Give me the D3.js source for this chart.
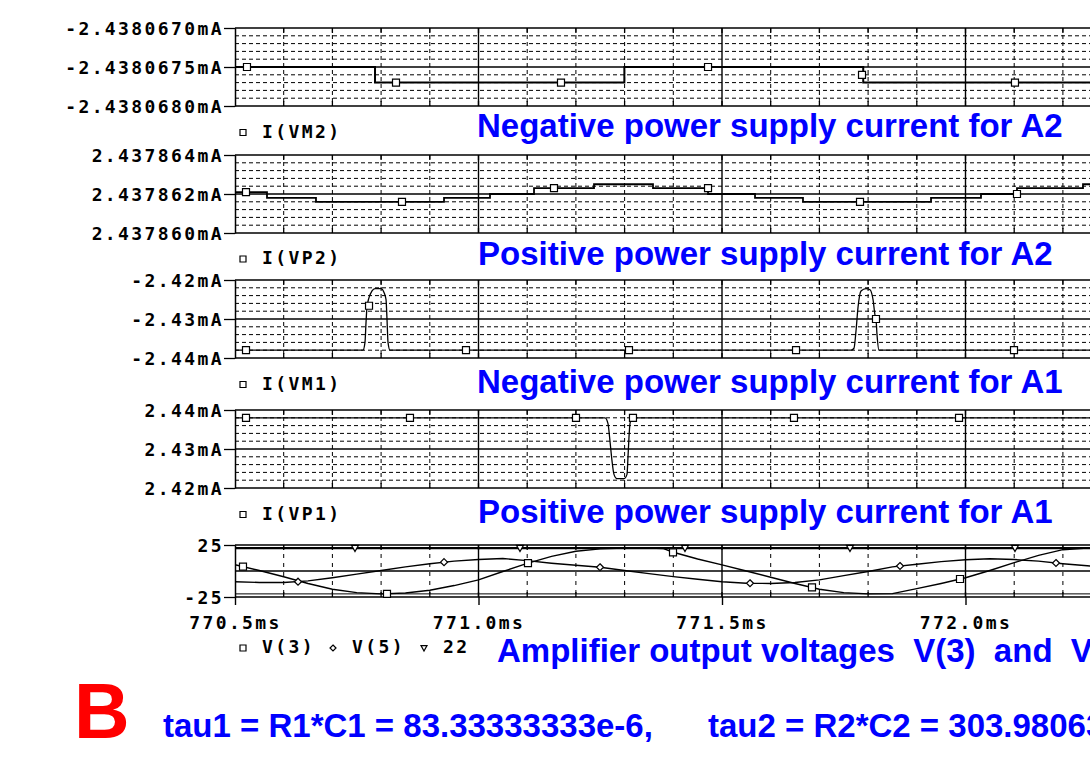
<!DOCTYPE html>
<html>
<head>
<meta charset="utf-8">
<script src="https://cdn.jsdelivr.net/npm/d3@7"></script>
<style>
body { margin: 0; background: #fff; }
svg text { white-space: pre; }
.mono { font-family: "DejaVu Sans Mono", "Liberation Mono", monospace; font-weight: bold; font-size: 18px; letter-spacing: 2.4px; fill: #000; }
.title { font-family: "Liberation Sans", Arial, sans-serif; font-weight: bold; font-size: 33px; fill: #0000ff; }
</style>
</head>
<body>
<div id="chart"></div>
<script>
/* global d3 */

let WIDTH = 1090;
let HEIGHT = 765;
let X0 = 235;      // left edge of every plot
let X_END = 1100;  // plots run off the right side of the picture

// time axis (ms)
let xMajor = [770.5, 771.0, 771.5, 772.0];
let xLabels = ["770.5ms", "771.0ms", "771.5ms", "772.0ms"];

// I(VM2): negative supply current of A2 (mA)
let iVM2 = [[770.5, -2.4380675], [770.7875, -2.4380677], [771.2995, -2.4380675], [771.79, -2.4380677], [772.3, -2.4380677]];
let iVM2Marks = [[770.5246, -2.4380675], [770.8306, -2.4380677], [771.1694, -2.4380677], [771.4713, -2.4380675], [771.7875, -2.4380676], [772.1016, -2.4380677]];
let iVM2Ticks = [-2.4380670, -2.4380675, -2.4380680];
let iVM2Labels = ["-2.4380670mA", "-2.4380675mA", "-2.4380680mA"];

// I(VP2): positive supply current of A2 (mA)
let iVP2 = [
	[770.5, 2.4378621], [770.5657, 2.4378618], [770.6663, 2.4378616], [770.9292, 2.4378618],
	[771.0236, 2.4378620], [771.1140, 2.4378623], [771.2372, 2.4378625], [771.3583, 2.4378623],
	[771.4713, 2.4378620], [771.5678, 2.4378618], [771.6663, 2.4378616], [771.9292, 2.4378618],
	[772.0318, 2.4378620], [772.1057, 2.4378623], [772.2413, 2.4378625], [772.3, 2.4378625]
];
let iVP2Marks = [[770.5226, 2.4378621], [770.8429, 2.4378616], [771.155, 2.4378623], [771.4713, 2.4378623], [771.7834, 2.4378616], [772.1057, 2.4378620]];
let iVP2Ticks = [2.437864, 2.437862, 2.437860];
let iVP2Labels = ["2.437864mA", "2.437862mA", "2.437860mA"];

// I(VM1): negative supply current of A1 (mA)
let iVM1 = [
	[770.5, -2.438], [770.7628, -2.438], [770.7669, -2.436], [770.7690, -2.431], [770.7710, -2.427],
	[770.7752, -2.4245], [770.7813, -2.4228], [770.7875, -2.4222], [770.7998, -2.4222], [770.8060, -2.4232],
	[770.8101, -2.425], [770.8121, -2.43], [770.8142, -2.436], [770.8183, -2.438],
	[771.7649, -2.438], [771.7710, -2.4375], [771.7752, -2.433], [771.7793, -2.427], [771.7854, -2.4228],
	[771.7957, -2.4222], [771.8039, -2.4225], [771.8101, -2.425], [771.8142, -2.429], [771.8162, -2.43],
	[771.8183, -2.434], [771.8224, -2.438], [772.3, -2.438]
];
let iVM1Marks = [[770.5226, -2.438], [770.7752, -2.4266], [770.9743, -2.438], [771.309, -2.438], [771.652, -2.438], [771.8162, -2.43], [772.0996, -2.438]];
let iVM1Ticks = [-2.42, -2.43, -2.44];
let iVM1Labels = ["-2.42mA", "-2.43mA", "-2.44mA"];

// I(VP1): positive supply current of A1 (mA)
let iVP1 = [
	[770.5, 2.438], [771.2598, 2.438], [771.2659, 2.4365], [771.2700, 2.432], [771.2741, 2.427],
	[771.2782, 2.4235], [771.2844, 2.4224], [771.2988, 2.4224], [771.3049, 2.4235], [771.3070, 2.428],
	[771.3090, 2.433], [771.3111, 2.4365], [771.3152, 2.438], [772.3, 2.438]
];
let iVP1Marks = [[770.5226, 2.438], [770.8593, 2.438], [771.2002, 2.438], [771.3172, 2.438], [771.6478, 2.438], [771.9867, 2.438]];
let iVP1Ticks = [2.44, 2.43, 2.42];
let iVP1Labels = ["2.44mA", "2.43mA", "2.42mA"];

// amplifier output voltages (V)
let v3 = [
	[770.50, 6.0], [770.55, 0.5], [770.60, -5.5], [770.65, -12], [770.70, -17.5], [770.75, -20.8],
	[770.80, -22], [770.85, -21.2], [770.90, -18.5], [770.95, -14], [771.00, -8.5], [771.05, -0.5],
	[771.10, 7.3], [771.15, 14], [771.20, 19], [771.25, 21.3], [771.30, 22], [771.35, 22],
	[771.38, 21.5], [771.40, 18], [771.45, 11.5], [771.50, 5.9], [771.55, 0], [771.60, -6],
	[771.65, -12], [771.70, -17.5], [771.75, -20.8], [771.80, -22], [771.85, -21.8], [771.90, -17],
	[771.95, -12], [772.00, -6.5], [772.05, 0.5], [772.10, 8], [772.15, 15], [772.20, 20.5],
	[772.25, 22], [772.30, 22]
];
let v3Marks = [[770.5164, 4.2], [770.8121, -22], [771.1016, 7.5], [771.3994, 18], [771.6848, -15.8], [771.9887, -7.7]];
let v5 = [
	[770.50, -10.3], [770.55, -11], [770.60, -11], [770.65, -9.5], [770.70, -6.5], [770.75, -3],
	[770.80, 0.5], [770.85, 4], [770.90, 7], [770.95, 9.5], [771.00, 11], [771.05, 12],
	[771.10, 10], [771.15, 7.5], [771.20, 5.5], [771.25, 3.6], [771.30, 0.5], [771.35, -2.5],
	[771.40, -5.4], [771.45, -8], [771.50, -10.3], [771.55, -11.8], [771.60, -12], [771.65, -11],
	[771.70, -8.5], [771.75, -4.5], [771.80, -0.5], [771.85, 4], [771.90, 6.5], [771.95, 9],
	[772.00, 10.8], [772.05, 11.8], [772.10, 11], [772.15, 9.5], [772.20, 7], [772.25, 5], [772.30, 3]
];
let v5Marks = [[770.6294, -10.3], [770.9292, 8.5], [771.2495, 3.6], [771.5575, -11.8], [771.8655, 4.8], [772.1858, 7.7]];
let ref22 = [[770.5, 22], [772.3, 22]];
let ref22Marks = [[770.7464, 22], [771.0852, 22], [771.4240, 22], [771.7628, 22], [772.1016, 22]];
let refMinus22 = [[770.5, -22], [772.3, -22]];
let voltTicks = [25, -25];
let voltLabels = ["25", "-25"];

let panels = [
	{ top: 28, bottom: 106, domain: [-2.4380680, -2.4380670], ticks: iVM2Ticks, labels: iVM2Labels, minor: true,
		series: [{ data: iVM2, marks: iVM2Marks, sym: "square", curve: d3.curveStepAfter, width: 2 }],
		legend: [{ sym: "square", label: "I(VM2)", x: 243 }], legendY: 137.5,
		title: { text: "Negative power supply current for A2", x: 477, y: 137 } },
	{ top: 155, bottom: 233, domain: [2.437860, 2.437864], ticks: iVP2Ticks, labels: iVP2Labels, minor: true,
		series: [{ data: iVP2, marks: iVP2Marks, sym: "square", curve: d3.curveStepAfter, width: 1.8 }],
		legend: [{ sym: "square", label: "I(VP2)", x: 243 }], legendY: 264,
		title: { text: "Positive power supply current for A2", x: 478, y: 265 } },
	{ top: 280, bottom: 358, domain: [-2.44, -2.42], ticks: iVM1Ticks, labels: iVM1Labels, minor: true,
		series: [{ data: iVM1, marks: iVM1Marks, sym: "square", curve: d3.curveMonotoneX, width: 1.3 }],
		legend: [{ sym: "square", label: "I(VM1)", x: 243 }], legendY: 389.5,
		title: { text: "Negative power supply current for A1", x: 477, y: 393 } },
	{ top: 410, bottom: 488, domain: [2.42, 2.44], ticks: iVP1Ticks, labels: iVP1Labels, minor: true,
		series: [{ data: iVP1, marks: iVP1Marks, sym: "square", curve: d3.curveMonotoneX, width: 1.3 }],
		legend: [{ sym: "square", label: "I(VP1)", x: 243 }], legendY: 519.5,
		title: { text: "Positive power supply current for A1", x: 478, y: 523 } },
	{ top: 545, bottom: 597, domain: [-25, 25], ticks: voltTicks, labels: voltLabels, minor: false, xAxis: true,
		series: [
			{ data: refMinus22, marks: [], sym: null, curve: d3.curveLinear, width: 1 },
			{ data: ref22, marks: ref22Marks, sym: "tri", curve: d3.curveLinear, width: 2.2 },
			{ data: v5, marks: v5Marks, sym: "diamond", curve: d3.curveLinear, width: 1.4 },
			{ data: v3, marks: v3Marks, sym: "square", curve: d3.curveLinear, width: 1.4 }
		],
		legend: [{ sym: "square", label: "V(3)", x: 243 }, { sym: "diamond", label: "V(5)", x: 333 }, { sym: "tri", label: "22", x: 424 }],
		legendY: 653,
		title: { text: "Amplifier output voltages  V(3)  and  V(5)", x: 497, y: 662 } }
];

let svg = d3.select("#chart").append("svg").
	attr("width", WIDTH).
	attr("height", HEIGHT).
	attr("viewBox", `0 0 ${WIDTH} ${HEIGHT}`);

svg.append("rect").attr("width", WIDTH).attr("height", HEIGHT).attr("fill", "#fff");

svg.append("defs").append("clipPath").attr("id", "plot").
	append("rect").
	attr("x", X0).attr("y", 0).
	attr("width", X_END - X0).attr("height", HEIGHT);

let x = d3.scaleLinear().domain([770.5, 772.0]).range([X0, 965.5]);

// grid positions every 0.1 ms; every fifth one is a major line
let xGrid = d3.range(1, 19).map(i => ({ t: 770.5 + i * 0.1, major: i % 5 === 0 }));
let xAll = d3.range(0, 19).map(i => 770.5 + i * 0.1);

function markerPath(sym, s) {
	if(sym === "square") {
		return `M${-s},${-s}H${s}V${s}H${-s}Z`;
	}
	if(sym === "diamond") {
		return `M0,${-s}L${s},0L0,${s}L${-s},0Z`;
	}
	return `M${-s},${-s * 0.8}H${s}L0,${s}Z`;
}

function drawMarker(g, sym, px, py, s) {
	g.append("path").
		attr("d", markerPath(sym, s)).
		attr("transform", `translate(${px},${py})`).
		attr("fill", "#fff").
		attr("stroke", "#000").
		attr("stroke-width", 1.2);
}

panels.forEach(p => {
	let y = d3.scaleLinear().domain(p.domain).range([p.bottom, p.top]);
	let g = svg.append("g");
	let grid = g.append("g").attr("clip-path", "url(#plot)").attr("stroke", "#000").attr("fill", "none");

	// horizontal grid
	let lo = p.domain[0], hi = p.domain[1];
	if(p.minor) {
		d3.range(1, 10).filter(i => i !== 5).forEach(i => {
			let yy = y(lo + (hi - lo) * i / 10);
			grid.append("line").attr("x1", X0).attr("x2", X_END).attr("y1", yy).attr("y2", yy).
				attr("stroke-width", 1).attr("stroke-dasharray", "4,3");
		});
	}
	let mid = y((lo + hi) / 2);
	grid.append("line").attr("x1", X0).attr("x2", X_END).attr("y1", mid).attr("y2", mid).attr("stroke-width", 1.3);

	// vertical grid
	xGrid.forEach(d => {
		let xx = x(d.t);
		grid.append("line").attr("x1", xx).attr("x2", xx).attr("y1", p.top).attr("y2", p.bottom).
			attr("stroke-width", d.major ? 1.4 : 1).
			attr("stroke-dasharray", d.major ? null : (p.minor ? "4,3" : "4,5"));
	});
	// small ticks along top and bottom edges
	xAll.forEach(t => {
		let xx = x(t);
		grid.append("line").attr("x1", xx).attr("x2", xx).attr("y1", p.top).attr("y2", p.top + 5).attr("stroke-width", 1.3);
		grid.append("line").attr("x1", xx).attr("x2", xx).attr("y1", p.bottom - 5).attr("y2", p.bottom).attr("stroke-width", 1.3);
	});
	// frame
	grid.append("line").attr("x1", X0).attr("x2", X_END).attr("y1", p.top).attr("y2", p.top).attr("stroke-width", 1.5);
	grid.append("line").attr("x1", X0).attr("x2", X_END).attr("y1", p.bottom).attr("y2", p.bottom).attr("stroke-width", 1.5);

	// y axis
	let yAxis = d3.axisLeft(y).
		tickValues(p.ticks).
		tickFormat((d, i) => p.labels[i]).
		tickSize(11).
		tickSizeOuter(0).
		tickPadding(0);
	let ag = g.append("g").attr("transform", `translate(${X0},0)`).call(yAxis);
	ag.attr("font-family", null).attr("font-size", null);
	ag.select(".domain").attr("stroke-width", 1.5);
	ag.selectAll(".tick line").attr("stroke-width", 1.3);
	ag.selectAll(".tick text").attr("class", "mono").attr("dy", "0.36em");

	// x axis under the last plot
	if(p.xAxis) {
		let xAxis = d3.axisBottom(x).
			tickValues(xMajor).
			tickFormat((d, i) => xLabels[i]).
			tickSize(8).
			tickPadding(11);
		let xg = g.append("g").attr("transform", `translate(0,${p.bottom})`).call(xAxis);
		xg.attr("font-family", null).attr("font-size", null);
		xg.select(".domain").remove();
		xg.selectAll(".tick line").attr("stroke-width", 1.4);
		xg.selectAll(".tick text").attr("class", "mono");
	}

	// traces and markers
	let traces = g.append("g").attr("clip-path", "url(#plot)");
	p.series.forEach(s => {
		let line = d3.line().
			x(d => x(d[0])).
			y(d => y(d[1])).
			curve(s.curve);
		traces.append("path").
			datum(s.data).
			attr("d", line).
			attr("fill", "none").
			attr("stroke", "#000").
			attr("stroke-width", s.width);
	});
	p.series.forEach(s => {
		s.marks.forEach(([t, v]) => drawMarker(traces, s.sym, x(t), y(v), 3.5));
	});

	// legend
	p.legend.forEach(l => {
		drawMarker(g, l.sym, l.x, p.legendY - 5, 3);
		g.append("text").attr("class", "mono").
			attr("x", l.x + 19).
			attr("y", p.legendY).
			text(l.label);
	});

	// blue caption
	g.append("text").attr("class", "title").
		attr("x", p.title.x).
		attr("y", p.title.y).
		text(p.title.text);
});

svg.append("text").
	attr("x", 74).attr("y", 738).
	style("font-family", "'Liberation Sans', Arial, sans-serif").
	style("font-weight", "bold").
	style("font-size", "77px").
	style("fill", "#ff0000").
	text("B");

svg.append("text").attr("class", "title").
	attr("x", 163).attr("y", 737).
	text("tau1 = R1*C1 = 83.33333333e-6,");

svg.append("text").attr("class", "title").
	attr("x", 708).attr("y", 737).
	text("tau2 = R2*C2 = 303.98063e-6");
</script>
</body>
</html>
